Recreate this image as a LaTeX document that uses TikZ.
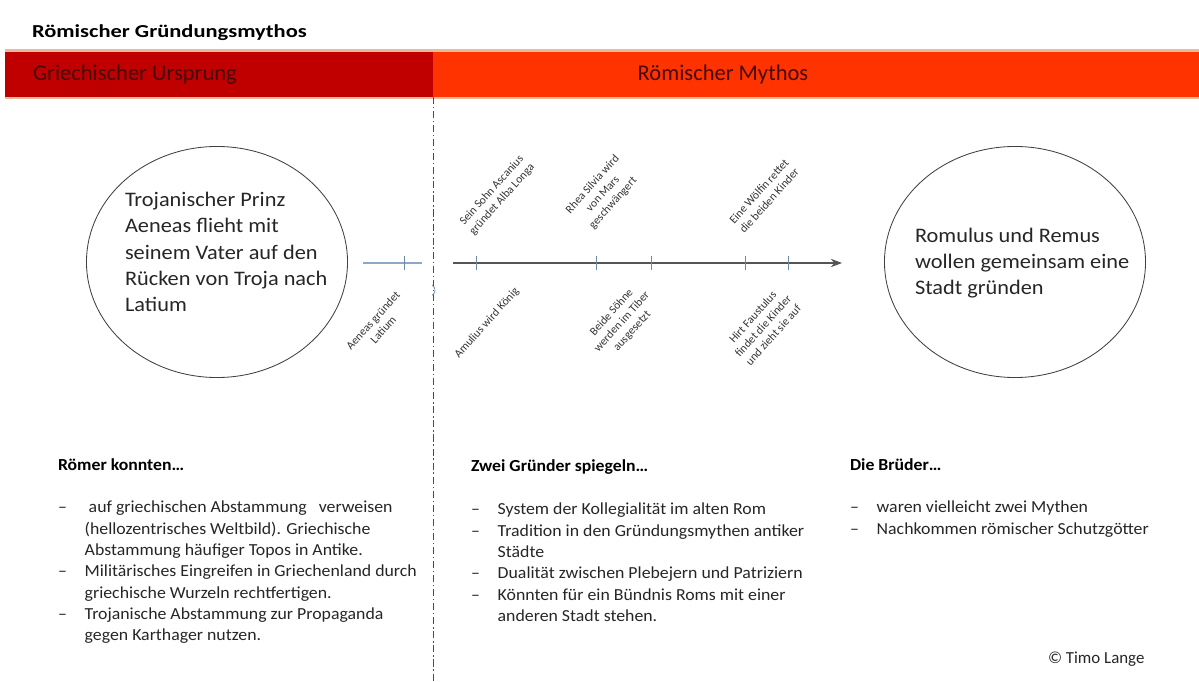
\documentclass[tikz,border=0pt]{standalone}
\usepackage{fontspec}
\setmainfont{Carlito}
\usetikzlibrary{shapes.geometric,arrows.meta}

\definecolor{grRed}{RGB}{192,0,0}
\definecolor{roOrange}{RGB}{255,51,0}
\definecolor{barEdge}{RGB}{234,186,156}
\definecolor{hdText}{RGB}{70,10,10}
\definecolor{preLine}{RGB}{140,168,196}
\definecolor{tickBlue}{RGB}{110,135,165}
\definecolor{axisGray}{RGB}{85,85,85}

\newcommand{\blt}{\makebox[18pt][l]{–}}
\newcommand{\ind}{\hspace*{18pt}}

\begin{document}
\begin{tikzpicture}[x=0.025cm, y=-0.025cm,
		every node/.style={inner sep=0pt, outer sep=0pt},
		round/.style={draw=black!75, ellipse, line width=0.6pt, minimum width=6.525cm, minimum height=5.775cm},
		circtext/.style={align=left, anchor=west, xscale=1.08, font=\fontsize{14.7}{18.6}\selectfont, text=black!85},
		evt/.style={align=center, rotate=48, font=\fontsize{8.2}{9.8}\selectfont, text=black!80},
		tick/.style={draw=tickBlue, line width=0.6pt},
		divider/.style={draw=black!70, line width=0.6pt, dash pattern=on 5pt off 2pt on 1pt off 2pt},
		hdtext/.style={anchor=base, font=\fontsize{16}{18}\selectfont, text=hdText},
		listhead/.style={anchor=base west, xscale=1.05, font=\fontsize{12}{15}\selectfont\bfseries},
		listbody/.style={anchor=north west, align=left, xscale=1.055, font=\fontsize{12}{15.2}\selectfont, text=black!85},
		]
		\useasboundingbox (0,0) rectangle (1199,682);
		
		% title and header bar
		\node[anchor=base west, xscale=1.23, font=\fontsize{13}{15}\selectfont\bfseries] (title) at (32,38) {Römischer Gründungsmythos};
		\fill[barEdge] (5,49) rectangle (1199,99);
		\fill[grRed] (5,52) rectangle (433,97);
		\fill[roOrange] (433,52) rectangle (1199,97);
		\node[hdtext, anchor=base west] (hdGriech) at (33,81) {Griechischer Ursprung};
		\node[hdtext] (hdRoem) at (723,81) {Römischer Mythos};
		
		\draw[divider] (433,97) -- (433,682);
		
		% circles
		\node[round] (circAeneas) at (217,262) {};
		\node[circtext] (txtAeneas) at (125,252) {Trojanischer Prinz\\Aeneas flieht mit\\seinem Vater auf den\\Rücken von Troja nach\\Latium};
		\node[round] (circBrueder) at (1015,262) {};
		\node[circtext] (txtBrueder) at (915,263) {Romulus und Remus\\wollen gemeinsam eine\\Stadt gründen};
		
		% timeline
		\coordinate (preA) at (363,263);
		\coordinate (preB) at (422,263);
		\coordinate (tlA) at (453,263);
		\coordinate (tlB) at (842,263);
		\draw[preLine, line width=0.8pt] (preA) -- (preB);
		\draw[tick] (404,256) -- (404,270);
		\draw[axisGray, line width=0.8pt, -{Stealth[length=8pt, width=6pt]}] (tlA) -- (tlB);
		\foreach \x in {476,596,651,745,788}
			\draw[tick] (\x,256) -- (\x,270);
		\draw[tickBlue, line width=0.5pt] (432,285) arc (-60:60:6);
		
		\node[evt] (evAeneas) at (378,325) {Aeneas gründet\\Latium};
		\node[evt] (evAscanius) at (497,195) {Sein Sohn Ascanius\\gründet Alba Longa};
		\node[evt] (evAmulius) at (487,323) {Amulius wird König};
		\node[evt] (evRhea) at (603,194) {Rhea Silvia wird\\von Mars\\geschwängert};
		\node[evt] (evTiber) at (622,322) {Beide Söhne\\werden im Tiber\\ausgesetzt};
		\node[evt] (evWolf) at (764,196) {Eine Wölfin rettet\\die beiden Kinder};
		\node[evt] (evHirt) at (763,326) {Hirt Faustulus\\findet die Kinder\\und zieht sie auf};
		
		% lists
		\node[listhead] (hdRoemer) at (58,471) {Römer konnten…};
		\node[listbody] (lstRoemer) at (58,501) {\blt\ auf griechischen Abstammung\ \ \ verweisen\\\ind(hellozentrisches Weltbild). Griechische\\\ind Abstammung häufiger Topos in Antike.\\\blt Militärisches Eingreifen in Griechenland durch\\\ind griechische Wurzeln rechtfertigen.\\\blt Trojanische Abstammung zur Propaganda\\\ind gegen Karthager nutzen.};
		
		\node[listhead] (hdGruender) at (471,472) {Zwei Gründer spiegeln…};
		\node[listbody] (lstGruender) at (471,503) {\blt System der Kollegialität im alten Rom\\\blt Tradition in den Gründungsmythen antiker\\\ind Städte\\\blt Dualität zwischen Plebejern und Patriziern\\\blt Könnten für ein Bündnis Roms mit einer\\\ind anderen Stadt stehen.};
		
		\node[listhead] (hdBrueder) at (850,471) {Die Brüder…};
		\node[listbody] (lstBrueder) at (850,501) {\blt waren vielleicht zwei Mythen\\\blt Nachkommen römischer Schutzgötter};
		
		\node[anchor=base west, font=\fontsize{12}{15}\selectfont, text=black!85] (copy) at (1048,663) {© Timo Lange};
	\end{tikzpicture}
\end{document}
